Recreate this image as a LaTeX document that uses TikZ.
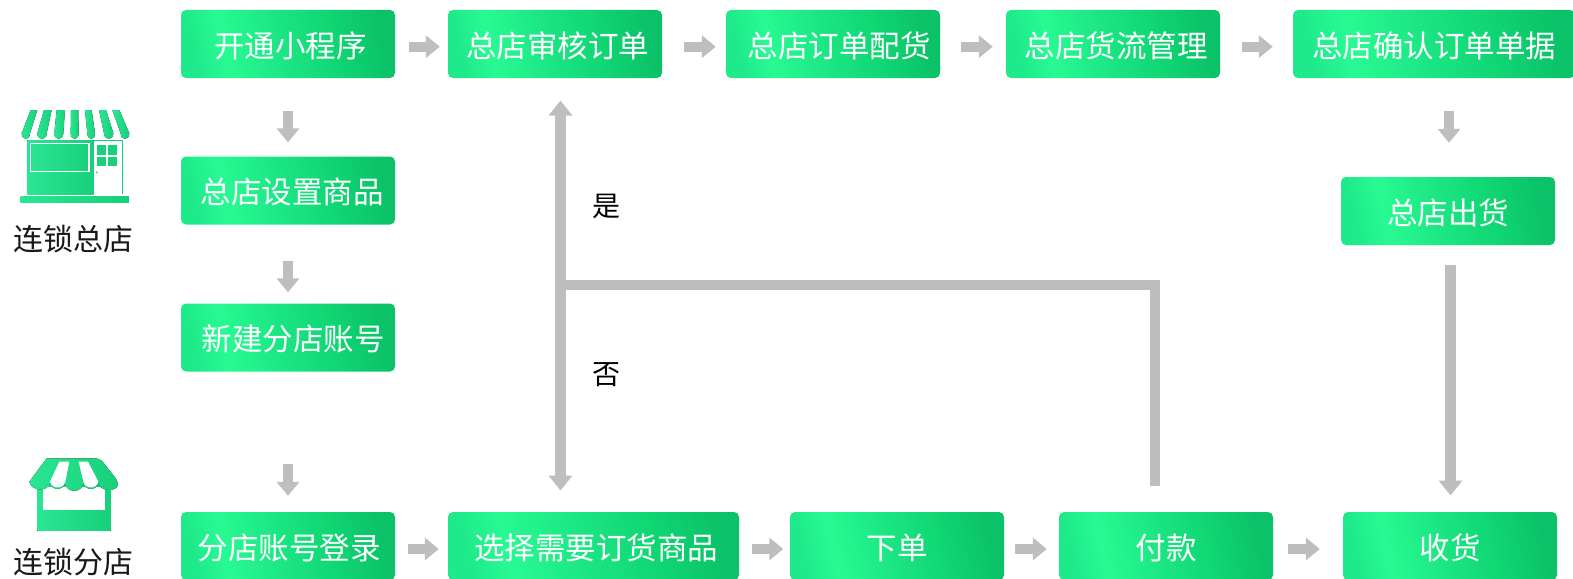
\documentclass[tikz,border=0pt]{standalone}
\usepackage{fontspec}
\setmainfont{Noto Sans CJK SC}
\usetikzlibrary{arrows.meta}
\definecolor{gA}{HTML}{1FEA8B}
\definecolor{gB}{HTML}{28FA93}
\definecolor{gC}{HTML}{1CE784}
\definecolor{gD}{HTML}{0FD472}
\definecolor{gE}{HTML}{0BC268}
\definecolor{arrowgray}{HTML}{BEBEBE}
\definecolor{iconA}{HTML}{2AE592}
\definecolor{iconB}{HTML}{17D07A}
\pgfdeclarehorizontalshading{boxg}{100bp}{color(0bp)=(gA);color(25bp)=(gA);color(33bp)=(gB);color(47bp)=(gC);color(63bp)=(gD);color(75bp)=(gE);color(100bp)=(gE)}
\tikzset{
  flowbox/.style={rounded corners=5pt,minimum height=68pt,inner sep=0pt,shading=boxg,shading angle=12,text=white,text height=27.6pt,text depth=0.8pt,font=\fontsize{30.5pt}{32pt}\selectfont},
  smallarrow/.style={draw=arrowgray,line width=10pt,-{Triangle[length=14pt,width=22pt]}},
  bigline/.style={draw=arrowgray,line width=10pt},
  blacklabel/.style={text=black,inner sep=0pt,text height=25.6pt,text depth=2.4pt,font=\fontsize{28pt}{30pt}\selectfont},
  shoplabel/.style={text=black!90,inner sep=0pt,text height=28.4pt,text depth=3.6pt,font=\fontsize{30pt}{32pt}\selectfont},
  icongreen/.style={left color=iconA,right color=iconB,draw=none}
}
\begin{document}
\begin{tikzpicture}[x=1pt,y=-1pt]
\useasboundingbox (0,0) rectangle (1573,578);
% boxes
\node[flowbox,minimum width=214pt] (a1) at (288,44) {\hspace*{5pt}开通小程序};
\node[flowbox,minimum width=214pt] (a2) at (555,44) {\hspace*{5pt}总店审核订单};
\node[flowbox,minimum width=214pt] (a3) at (833,44) {\hspace*{12pt}总店订单配货};
\node[flowbox,minimum width=214pt] (a4) at (1113,44) {\hspace*{6pt}总店货流管理};
\node[flowbox,minimum width=282pt] (a5) at (1434,44) {总店确认订单单据};
\node[flowbox,minimum width=214pt] (a6) at (288,190.5) {\hspace*{8pt}总店设置商品};
\node[flowbox,minimum width=214pt] (a7) at (288,337.5) {\hspace*{10pt}新建分店账号};
\node[flowbox,minimum width=214pt] (a8) at (1448,211) {总店出货};
\node[flowbox,minimum width=214pt] (b1) at (288,546) {\hspace*{2pt}分店账号登录};
\node[flowbox,minimum width=291pt] (b2) at (593.5,546) {\hspace*{5pt}选择需要订货商品};
\node[flowbox,minimum width=214pt] (b3) at (897,546) {下单};
\node[flowbox,minimum width=214pt] (b4) at (1166,546) {付款};
\node[flowbox,minimum width=214pt] (b5) at (1450,546) {收货};
% small arrows
\draw[smallarrow,shorten <=14pt,shorten >=8pt] ([yshift=-2.7pt]a1.east) -- ([yshift=-2.7pt]a2.west);
\draw[smallarrow,shorten <=22pt,shorten >=10pt] ([yshift=-2.7pt]a2.east) -- ([yshift=-2.7pt]a3.west);
\draw[smallarrow,shorten <=21pt,shorten >=13pt] ([yshift=-2.7pt]a3.east) -- ([yshift=-2.7pt]a4.west);
\draw[smallarrow,shorten <=22pt,shorten >=20pt] ([yshift=-2.7pt]a4.east) -- ([yshift=-2.7pt]a5.west);
\draw[smallarrow,shorten <=12.5pt,shorten >=9pt] ([yshift=-3pt]b1.east) -- ([yshift=-3pt]b2.west);
\draw[smallarrow,shorten <=13pt,shorten >=6.5pt] ([yshift=-3pt]b2.east) -- ([yshift=-3pt]b3.west);
\draw[smallarrow,shorten <=11pt,shorten >=12pt] ([yshift=-3pt]b3.east) -- ([yshift=-3pt]b4.west);
\draw[smallarrow,shorten <=14.5pt,shorten >=23pt] ([yshift=-3pt]b4.east) -- ([yshift=-3pt]b5.west);
\draw[smallarrow,shorten <=32.7pt,shorten >=14pt] (a1.south) -- (a6.north);
\draw[smallarrow,shorten <=36pt,shorten >=11pt] (a6.south) -- (a7.north);
\draw[smallarrow,shorten <=92.5pt,shorten >=16pt] (a7.south) -- (b1.north);
\draw[smallarrow,shorten <=32.7pt,shorten >=34pt] ([xshift=1pt]a8.north |- a5.south) -- ([xshift=1pt]a8.north);
% big connectors
\coordinate (j) at (560,285);
\draw[bigline,line width=11pt,{Triangle[length=15pt,width=23pt]}-{Triangle[length=15pt,width=23pt]},shorten <=22.4pt,shorten >=21.3pt] ([xshift=5.5pt]a2.south) -- ([xshift=5.5pt]a2.south |- b2.north);
\draw[bigline,shorten <=26.3pt] ([xshift=-11pt]b4.north) |- (j);
\draw[bigline,line width=11pt,-{Triangle[length=15pt,width=23pt]},shorten <=20pt,shorten >=16.3pt] ([xshift=2.5pt]a8.south) -- ([xshift=2.5pt]a8.south |- b5.north);
% labels
\node[blacklabel] (yes) at (606,205) {是};
\node[blacklabel] (no) at (606,373) {否};
\node[shoplabel] (hq) at (73,238) {连锁总店};
\node[shoplabel] (br) at (73,561) {连锁分店};
% head-office shop icon
\begin{scope}[yshift=-90pt,x=0.33333pt,y=-0.33333pt]
  \foreach \ta/\tb/\ba/\bb in {92/112/65/90,132/155/112/140,170/195/163/190,213/235/212/236,255/275/262/285,297/318/312/340,337/358/362/388}{
    \fill[icongreen] (\ta,60) -- (\tb,60) -- (\bb,130) .. controls (\bb,152) and (\ba,152) .. (\ba,130) -- cycle;
  }
  \fill[icongreen] (82,150) rectangle (281,312);
  \draw[white,line width=1.3pt] (91,161) rectangle (267,245);
  \draw[iconB,line width=1.6pt] (281,152) -- (368,152) -- (368,312);
  \fill[iconB] (290,165) rectangle (318,194);
  \fill[iconB] (325,165) rectangle (352,194);
  \fill[iconB] (290,200) rectangle (318,228);
  \fill[iconB] (325,200) rectangle (352,228);
  \fill[iconB] (290,247) circle (3);
  \fill[icongreen] (62,320) rectangle (387,336);
\end{scope}
% branch shop icon
\begin{scope}[yshift=-440pt,x=0.33333pt,y=-0.33333pt]
  \fill[icongreen] (112,130) rectangle (332,272);
  \fill[white] (130,140) rectangle (315,210);
  \fill[icongreen,rounded corners=4pt] (140,55) -- (300,55) -- (355,125)
    [sharp corners] .. controls (350,155) and (300,155) .. (295,130)
    .. controls (290,152) and (255,152) .. (250,130)
    .. controls (245,160) and (200,160) .. (195,130)
    .. controls (190,152) and (155,152) .. (150,130)
    .. controls (145,155) and (93,155) .. (88,125) -- cycle;
  \fill[white] (178,65) -- (208,65) -- (196,125) .. controls (190,148) and (155,148) .. (150,125) -- cycle;
  \fill[white] (236,65) -- (264,65) -- (295,125) .. controls (290,148) and (255,148) .. (250,125) -- cycle;
\end{scope}
\end{tikzpicture}
\end{document}
